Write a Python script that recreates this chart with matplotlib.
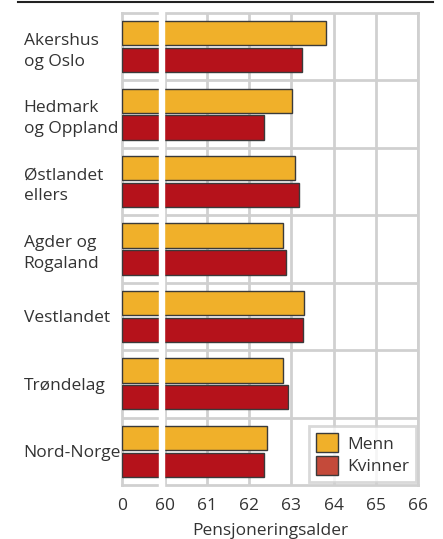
import matplotlib.pyplot as plt
from matplotlib.patches import Patch
from matplotlib.lines import Line2D

# data
regions = ["Akershus\nog Oslo", "Hedmark\nog Oppland", "Østlandet\nellers",
           "Agder og\nRogaland", "Vestlandet", "Trøndelag", "Nord-Norge"]
menn = [63.82, 63.01, 63.09, 62.79, 63.30, 62.79, 62.42]
kvinner = [63.24, 62.35, 63.17, 62.86, 63.28, 62.93, 62.35]
tick_vals = [0, 60, 61, 62, 63, 64, 65, 66]

# broken axis: value 0 is drawn one unit left of 60
BREAK = 59
def pos(v):
    return BREAK if v == 0 else v

plt.rcParams['font.family'] = ['Open Sans', 'DejaVu Sans']

fig = plt.figure(figsize=(4.43, 5.39), dpi=100)
ax = fig.add_axes([122.3 / 443, 1 - 485 / 539, 296 / 443, 472 / 539])

c_menn = '#f0b02a'
c_kvinner = '#b5121b'
edge = '#3a3a3a'
grid_c = '#d0d0d0'

for i in range(len(regions)):
    ax.barh(i + 0.3, menn[i] - BREAK, left=BREAK, height=0.36,
            color=c_menn, edgecolor=edge, linewidth=1, zorder=3)
    ax.barh(i + 0.7, kvinner[i] - BREAK, left=BREAK, height=0.36,
            color=c_kvinner, edgecolor=edge, linewidth=1, zorder=3)

ax.set_xlim(BREAK, 66)
ax.set_ylim(len(regions), 0)

# grid
for t in tick_vals[1:]:
    ax.axvline(pos(t), color=grid_c, linewidth=2, zorder=1)
for k in range(1, len(regions)):
    ax.axhline(k, color=grid_c, linewidth=2, zorder=1)
for s in ax.spines.values():
    s.set_color(grid_c)
    s.set_linewidth(2)

# white gap for the axis break
ax.axvspan(59.86, 59.98, ymin=-0.02, ymax=1.02, color='white', zorder=5,
           clip_on=False)

ax.set_xticks([pos(t) for t in tick_vals])
ax.set_xticklabels([str(t) for t in tick_vals], fontsize=12.5, color='#333333')
ax.set_yticks([i + 0.5 for i in range(len(regions))])
ax.set_yticklabels(regions, fontsize=12.5, color='#333333', ha='left',
                   linespacing=1.4)
ax.tick_params(axis='y', length=0, pad=71)
ax.tick_params(axis='x', length=0, pad=9)
ax.set_xlabel('Pensjoneringsalder', fontsize=12.5, color='#333333', labelpad=7)

handles = [Patch(facecolor=c_menn, edgecolor=edge, label='Menn'),
           Patch(facecolor='#c44a3a', edgecolor=edge, label='Kvinner')]
leg = ax.legend(handles=handles, loc='lower right', fontsize=12.5,
                frameon=True, fancybox=False, borderaxespad=0.15,
                handlelength=1.3, handleheight=1.3, handletextpad=0.5,
                labelspacing=0.2, borderpad=0.4)
leg.get_frame().set_edgecolor(grid_c)
leg.get_frame().set_linewidth(2)
leg.set_zorder(6)
for txt in leg.get_texts():
    txt.set_color('#333333')

# top rule
fig.add_artist(Line2D([18 / 443, 433 / 443], [1 - 2 / 539, 1 - 2 / 539],
                      color='#222222', linewidth=1.5))

fig.savefig('out.png', dpi=100)
